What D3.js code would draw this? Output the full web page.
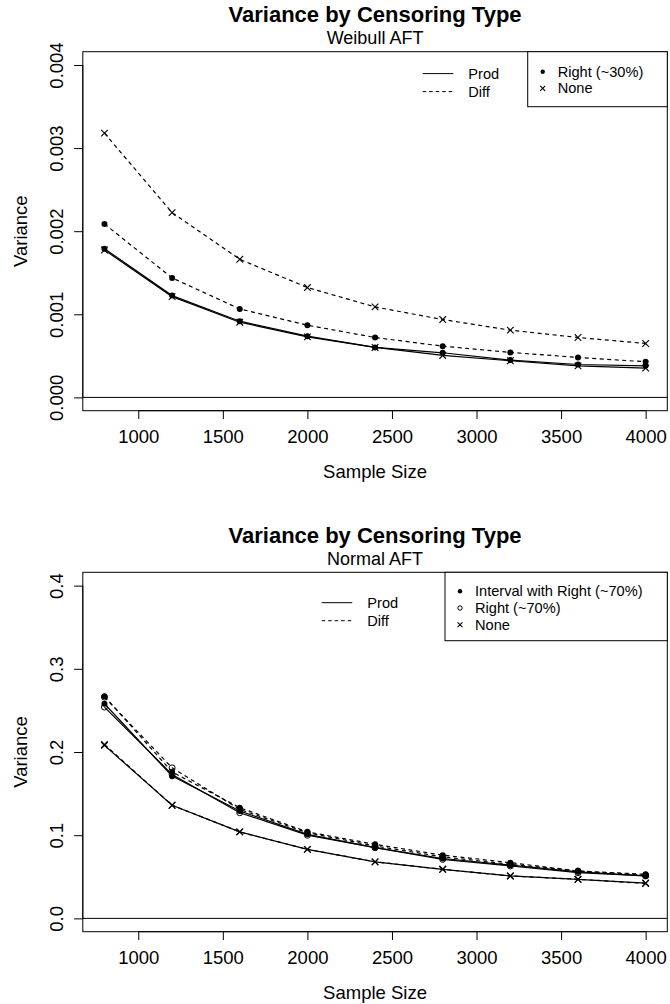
<!DOCTYPE html>
<html>
<head>
<meta charset="utf-8">
<script src="https://cdn.jsdelivr.net/npm/d3@7"></script>
<style>
  html, body { margin: 0; padding: 0; background: #fff; }
  svg { display: block; font-family: "Liberation Sans", Arial, Helvetica, sans-serif; }
</style>
</head>
<body>
<svg id="chart" width="670" height="1004"></svg>
<script>
// ---------- data ----------
const sampleSizes = [800, 1200, 1600, 2000, 2400, 2800, 3200, 3600, 4000];
const xTicks = [1000, 1500, 2000, 2500, 3000, 3500, 4000];

// Panel 1: Weibull AFT
const weibullTicks = [0, 0.001, 0.002, 0.003, 0.004];
const weibullRightProd = [0.00179, 0.001225, 0.000917, 0.000737, 0.000601, 0.000537, 0.000449, 0.000396, 0.000380];
const weibullNoneProd  = [0.001774, 0.001213, 0.000905, 0.000729, 0.000601, 0.000505, 0.000441, 0.000380, 0.000352];
const weibullRightDiff = [0.002087, 0.001438, 0.001065, 0.000869, 0.000721, 0.000617, 0.000541, 0.000481, 0.000429];
const weibullNoneDiff  = [0.00318, 0.002223, 0.001662, 0.001322, 0.001089, 0.000937, 0.000809, 0.000721, 0.000649];

// Panel 2: Normal AFT
const normalTicks = [0, 0.1, 0.2, 0.3, 0.4];
const normalIntervalProd = [0.258, 0.171, 0.129, 0.101, 0.085, 0.072, 0.064, 0.056, 0.051];
const normalIntervalDiff = [0.267, 0.176, 0.133, 0.104, 0.089, 0.076, 0.067, 0.057, 0.053];
const normalRightProd    = [0.254, 0.173, 0.127, 0.100, 0.085, 0.071, 0.063, 0.055, 0.051];
const normalRightDiff    = [0.266, 0.181, 0.131, 0.103, 0.087, 0.074, 0.065, 0.057, 0.052];
const normalNoneProd     = [0.208, 0.136, 0.104, 0.083, 0.068, 0.059, 0.051, 0.047, 0.0425];
const normalNoneDiff     = [0.209, 0.136, 0.104, 0.083, 0.068, 0.059, 0.051, 0.047, 0.042];

const mainTitle = "Variance by Censoring Type";
const lineTypes = ["Prod", "Diff"];

// ---------- drawing ----------
const svg = d3.select("#chart");
const DASH = "4,3.5";

function drawPoint(g, shape, x, y, s) {
  if (shape === "dot") {
    g.append("circle").attr("cx", x).attr("cy", y).attr("r", s).attr("fill", "#000");
  } else if (shape === "circle") {
    g.append("circle").attr("cx", x).attr("cy", y).attr("r", s).attr("fill", "none")
      .attr("stroke", "#000").attr("stroke-width", 1);
  } else {
    const h = s * 1.1;
    g.append("path").attr("d", `M${x-h},${y-h}L${x+h},${y+h}M${x-h},${y+h}L${x+h},${y-h}`)
      .attr("stroke", "#000").attr("stroke-width", 1.1).attr("fill", "none");
  }
}

function panel(opts) {
  const { top, bottom, subtitle, ticks, fmt, yMax, series, legendItems, legendBox, lineLegend } = opts;
  const left = 82.8, right = 667.3;
  const g = svg.append("g");

  const x = d3.scaleLinear().domain([672, 4128]).range([left, right]);
  const pad = yMax * 0.04;
  const y = d3.scaleLinear().domain([-pad, yMax + pad]).range([bottom, top]);

  // titles
  g.append("text").attr("x", (left + right) / 2).attr("y", top - 29.4)
    .attr("text-anchor", "middle").attr("font-size", 22).attr("font-weight", "bold")
    .text(mainTitle);
  g.append("text").attr("x", (left + right) / 2).attr("y", top - 7.4)
    .attr("text-anchor", "middle").attr("font-size", 18).text(subtitle);

  // box
  g.append("rect").attr("x", left).attr("y", top).attr("width", right - left).attr("height", bottom - top)
    .attr("fill", "none").attr("stroke", "#000").attr("stroke-width", 1);

  // x axis
  const xa = g.append("g").attr("transform", `translate(0,${bottom})`)
    .call(d3.axisBottom(x).tickValues(xTicks).tickSize(8.3).tickSizeOuter(0).tickFormat(d3.format("d")));
  xa.select(".domain").remove();
  xa.append("line").attr("x1", x(xTicks[0])).attr("x2", x(xTicks[xTicks.length - 1]))
    .attr("y1", 0).attr("y2", 0).attr("stroke", "#000");
  xa.selectAll(".tick line").attr("stroke", "#000");
  xa.selectAll(".tick text").attr("y", 32).attr("dy", 0).attr("font-size", 18.5)
    .attr("fill", "#000").attr("font-family", "Liberation Sans, Arial, sans-serif");

  // y axis
  const ya = g.append("g").attr("transform", `translate(${left},0)`)
    .call(d3.axisLeft(y).tickValues(ticks).tickSize(8.7).tickSizeOuter(0).tickFormat(d3.format(fmt)));
  ya.select(".domain").remove();
  ya.append("line").attr("x1", 0).attr("x2", 0).attr("y1", y(ticks[0])).attr("y2", y(ticks[ticks.length - 1]))
    .attr("stroke", "#000");
  ya.selectAll(".tick line").attr("stroke", "#000");
  ya.selectAll(".tick text").attr("transform", "rotate(-90)").attr("x", 0).attr("y", -19.7)
    .attr("dy", 0).attr("text-anchor", "middle").attr("font-size", 18.5).attr("fill", "#000")
    .attr("font-family", "Liberation Sans, Arial, sans-serif");

  // axis titles
  g.append("text").attr("x", (left + right) / 2).attr("y", bottom + 67)
    .attr("text-anchor", "middle").attr("font-size", 18.5).text("Sample Size");
  g.append("text").attr("transform", `translate(26.7,${(top + bottom) / 2}) rotate(-90)`)
    .attr("text-anchor", "middle").attr("font-size", 18.5).text("Variance");

  // zero line
  g.append("line").attr("x1", left).attr("x2", right).attr("y1", y(0)).attr("y2", y(0))
    .attr("stroke", "#000").attr("stroke-width", 1);

  // series
  const line = d3.line().x((d, i) => x(sampleSizes[i])).y(d => y(d));
  series.forEach(s => {
    g.append("path").datum(s.values).attr("d", line).attr("fill", "none")
      .attr("stroke", "#000").attr("stroke-width", 1.2)
      .attr("stroke-dasharray", s.type === "Diff" ? DASH : null);
  });
  series.forEach(s => {
    s.values.forEach((v, i) => drawPoint(g, s.shape, x(sampleSizes[i]), y(v), 3));
  });

  // legend (symbols)
  g.append("rect").attr("x", legendBox.x).attr("y", top).attr("width", right - legendBox.x)
    .attr("height", legendBox.h).attr("fill", "#fff").attr("stroke", "#000").attr("stroke-width", 1);
  legendItems.forEach((it, i) => {
    const by = top + legendBox.first + i * 16.7;
    drawPoint(g, it.shape, legendBox.x + 15, by - 5, 2.2);
    g.append("text").attr("x", legendBox.x + 30).attr("y", by).attr("font-size", 14.6).text(it.label);
  });

  // legend (line types)
  lineTypes.forEach((t, i) => {
    const ly = lineLegend.y + i * 18;
    g.append("line").attr("x1", lineLegend.x).attr("x2", lineLegend.x + 30.6)
      .attr("y1", ly).attr("y2", ly).attr("stroke", "#000").attr("stroke-width", 1)
      .attr("stroke-dasharray", t === "Diff" ? "3.5,3" : null);
    g.append("text").attr("x", lineLegend.x + 45.6).attr("y", ly + 5.3)
      .attr("font-size", 14.6).text(t);
  });
}

panel({
  top: 51.7, bottom: 410.7, subtitle: "Weibull AFT",
  ticks: weibullTicks, fmt: ".3f", yMax: 0.004,
  series: [
    { values: weibullRightProd, shape: "dot", type: "Prod" },
    { values: weibullNoneProd, shape: "x", type: "Prod" },
    { values: weibullRightDiff, shape: "dot", type: "Diff" },
    { values: weibullNoneDiff, shape: "x", type: "Diff" }
  ],
  legendItems: [ { shape: "dot", label: "Right (~30%)" }, { shape: "x", label: "None" } ],
  legendBox: { x: 527.7, h: 55, first: 25 },
  lineLegend: { x: 422.7, y: 73.6 }
});

panel({
  top: 572.3, bottom: 931.7, subtitle: "Normal AFT",
  ticks: normalTicks, fmt: ".1f", yMax: 0.4,
  series: [
    { values: normalIntervalProd, shape: "dot", type: "Prod" },
    { values: normalRightProd, shape: "circle", type: "Prod" },
    { values: normalNoneProd, shape: "x", type: "Prod" },
    { values: normalRightDiff, shape: "circle", type: "Diff" },
    { values: normalIntervalDiff, shape: "dot", type: "Diff" },
    { values: normalNoneDiff, shape: "x", type: "Diff" }
  ],
  legendItems: [
    { shape: "dot", label: "Interval with Right (~70%)" },
    { shape: "circle", label: "Right (~70%)" },
    { shape: "x", label: "None" }
  ],
  legendBox: { x: 445, h: 68.4, first: 24 },
  lineLegend: { x: 321.7, y: 602.7 }
});
</script>
</body>
</html>
